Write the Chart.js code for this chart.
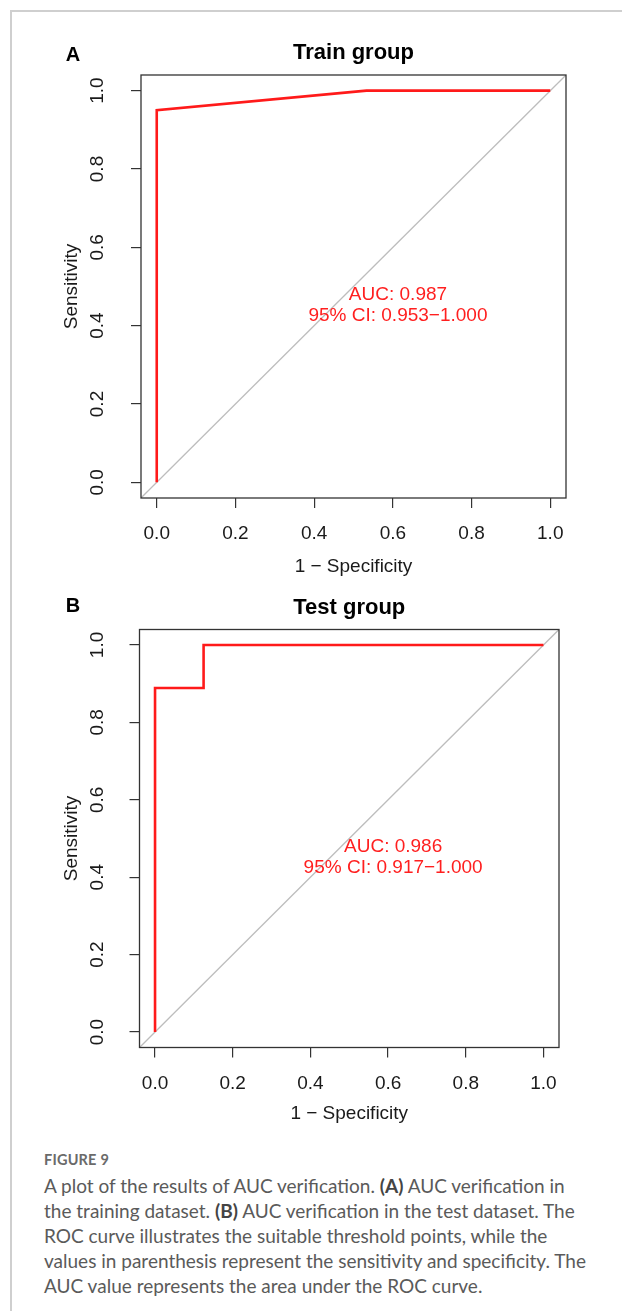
<!DOCTYPE html>
<html>
<head>
<meta charset="utf-8">
<script src="https://cdn.jsdelivr.net/npm/chart.js@4.4.0/dist/chart.umd.min.js"></script>
<style>
  body { margin: 0; background: #fff; }
  #page { position: relative; width: 622px; height: 1311px; overflow: hidden; }
  #edge { position: absolute; left: 10px; top: 10px; right: -4px; bottom: -4px; border-left: 2px solid #cfcfcf; border-top: 2px solid #cfcfcf; }
  canvas { position: absolute; left: 0; }
  #chartA { top: 0; }
  #chartB { top: 590px; }
  .caption { position: absolute; left: 44px; top: 1147px; font-family: "Lato", sans-serif; color: #5a5a5a; white-space: nowrap; }
  .caption .fig { font-size: 14.5px; font-weight: 700; color: #6a6a6a; letter-spacing: 0.2px; line-height: 26px; }
  .caption .txt { font-size: 19px; line-height: 25px; }
  .caption b { color: #444; }
</style>
</head>
<body>
<div id="page">
  <div id="edge"></div>
  <canvas id="chartA" width="622" height="590"></canvas>
  <canvas id="chartB" width="622" height="540"></canvas>
  <div class="caption">
    <div class="fig">FIGURE 9</div>
    <div class="txt">A plot of the results of AUC verification. <b>(A)</b> AUC verification in<br>the training dataset. <b>(B)</b> AUC verification in the test dataset. The<br>ROC curve illustrates the suitable threshold points, while the<br>values in parenthesis represent the sensitivity and specificity. The<br>AUC value represents the area under the ROC curve.</div>
  </div>
</div>
<script>
// axis ticks shared by both panels
const TICKS = [0, 0.2, 0.4, 0.6, 0.8, 1.0];
const AXIS_MIN = -0.04, AXIS_MAX = 1.04;

// train group ROC curve: 1 - specificity vs sensitivity
const trainFpr  = [0, 0, 0.533, 1];
const trainSens = [0, 0.95, 1, 1];
const trainAuc  = 'AUC: 0.987';
const trainCi   = '95% CI: 0.953\u22121.000';

// test group ROC curve
const testFpr  = [0, 0, 0.125, 0.125, 1];
const testSens = [0, 0.889, 0.889, 1, 1];
const testAuc  = 'AUC: 0.986';
const testCi   = '95% CI: 0.917\u22121.000';

const FONT = '"Liberation Sans", Arial, sans-serif';
const INK = '#1a1a1a';
const FS = 19;

// frame, rotated y tick labels, AUC text, panel letter
const rocExtras = {
  id: 'rocExtras',
  afterDraw(chart, args, o) {
    const { ctx, chartArea: a } = chart;
    const xs = chart.scales.x, ys = chart.scales.y;
    ctx.save();
    ctx.strokeStyle = '#333';
    ctx.lineWidth = 1.3;
    ctx.strokeRect(a.left, a.top, a.right - a.left, a.bottom - a.top);

    ctx.fillStyle = INK;
    ctx.font = FS + 'px ' + FONT;
    ctx.textAlign = 'center';
    ctx.textBaseline = 'middle';
    ys.ticks.forEach(t => {
      ctx.save();
      ctx.translate(o.yLabelX, ys.getPixelForValue(t.value));
      ctx.rotate(-Math.PI / 2);
      ctx.fillText(t.value.toFixed(1), 0, 0);
      ctx.restore();
    });

    ctx.fillStyle = '#ff1f1f';
    const lx = xs.getPixelForValue(o.textAt[0]);
    const ly = ys.getPixelForValue(o.textAt[1]);
    ctx.fillText(o.auc, lx, ly);
    ctx.fillText(o.ci, lx, ly + 20.5);

    ctx.fillStyle = '#000';
    ctx.font = 'bold 20px ' + FONT;
    ctx.fillText(o.letter, o.letterAt[0], o.letterAt[1]);
    ctx.restore();
  }
};

function rocChart(id, c) {
  const W = 622, H = c.height;
  const tickFont = { family: FONT, size: FS };
  return new Chart(document.getElementById(id), {
    type: 'scatter',
    data: {
      datasets: [
        {
          data: c.fpr.map((x, i) => ({ x: x, y: c.sens[i] })),
          showLine: true, borderColor: '#ff1a1a', borderWidth: 2.6,
          pointRadius: 0, tension: 0, order: 0
        },
        {
          data: [{ x: AXIS_MIN, y: AXIS_MIN }, { x: AXIS_MAX, y: AXIS_MAX }],
          showLine: true, borderColor: '#bdbdbd', borderWidth: 1.3,
          pointRadius: 0, order: 1
        }
      ]
    },
    options: {
      responsive: false,
      animation: false,
      devicePixelRatio: 1,
      layout: { padding: { left: 0, right: W - c.area.right, top: c.padTop, bottom: 0 } },
      plugins: {
        legend: { display: false },
        tooltip: { enabled: false },
        title: {
          display: true, text: c.title, fullSize: false, color: '#000',
          font: { family: FONT, size: 22, weight: 'bold' },
          padding: { top: 0, bottom: c.area.top - c.padTop - 26.4 }
        },
        rocExtras: {
          yLabelX: 98, auc: c.auc, ci: c.ci, textAt: [0.613, 0.478],
          letter: c.letter, letterAt: c.letterAt
        }
      },
      scales: {
        x: {
          type: 'linear', min: AXIS_MIN, max: AXIS_MAX,
          afterBuildTicks: s => { s.ticks = TICKS.map(v => ({ value: v })); },
          afterFit: s => { s.height = H - c.area.bottom; },
          ticks: { callback: v => v.toFixed(1), font: tickFont, color: INK, padding: c.xLabelPad, autoSkip: false, maxRotation: 0 },
          grid: { drawOnChartArea: false, drawTicks: true, tickLength: 10, color: '#333', lineWidth: 1.2 },
          border: { display: false },
          title: { display: true, text: '1 \u2212 Specificity', font: tickFont, color: INK, padding: { top: 0, bottom: c.xTitlePad } }
        },
        y: {
          type: 'linear', min: AXIS_MIN, max: AXIS_MAX,
          afterBuildTicks: s => { s.ticks = TICKS.map(v => ({ value: v })); },
          afterFit: s => { s.width = c.area.left; },
          ticks: { display: false },
          grid: { drawOnChartArea: false, drawTicks: true, tickLength: 10, color: '#333', lineWidth: 1.2 },
          border: { display: false },
          title: { display: true, text: 'Sensitivity', font: tickFont, color: INK, padding: { top: 60.6, bottom: 0 } }
        }
      }
    },
    plugins: [rocExtras]
  });
}

rocChart('chartA', {
  height: 590, title: 'Train group', letter: 'A', letterAt: [73, 55],
  fpr: trainFpr, sens: trainSens, auc: trainAuc, ci: trainCi,
  area: { left: 141, right: 566, top: 75, bottom: 498 },
  padTop: 40, xLabelPad: 14, xTitlePad: 11.6
});

rocChart('chartB', {
  height: 540, title: 'Test group', letter: 'B', letterAt: [73, 16],
  fpr: testFpr, sens: testSens, auc: testAuc, ci: testCi,
  area: { left: 139.5, right: 559, top: 39.5, bottom: 457.5 },
  padTop: 5, xLabelPad: 14.5, xTitlePad: 4.6
});
</script>
</body>
</html>
